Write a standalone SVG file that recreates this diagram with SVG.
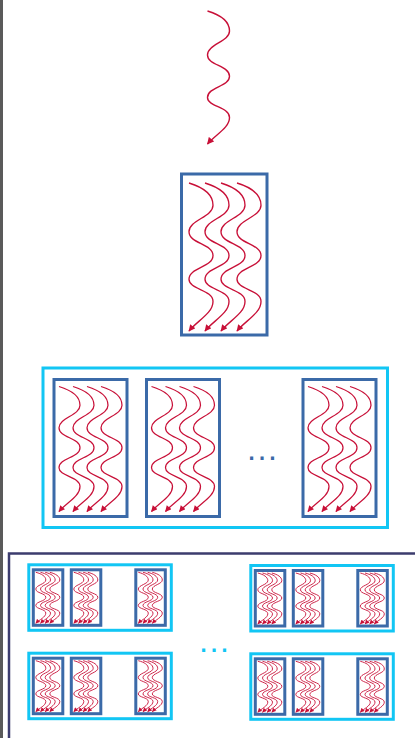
<svg xmlns="http://www.w3.org/2000/svg" xmlns:xlink="http://www.w3.org/1999/xlink" width="415" height="738" viewBox="0 0 415 738">
<style>
.w{fill:none;stroke:#c81038;marker-end:url(#ah)}
.box{fill:#fff;stroke:#3b6aa8;stroke-width:3}
.cy{fill:#fff;stroke:#12c6f4;stroke-width:3}
.dots{font-family:"Liberation Sans",Arial,sans-serif;font-size:33px;text-anchor:middle}
</style>
<defs>
<marker id="ah" viewBox="0 0 10 10" refX="9" refY="5" markerWidth="5.5" markerHeight="5" orient="auto" markerUnits="strokeWidth"><path d="M0,0 L10,5 L0,10 z" fill="#c81038"/></marker>
<path id="wA" class="w" stroke-width="1.4" d="M0,0 C13.2,4 22,10.6 22,20 C22,30.6 0,33.3 0,43.9 C0,54.5 22,54.5 22,65.2 C22,75.8 0,75.8 0,86.5 C0,95.8 22,95.8 22,106.4 C22,117 7.7,123.7 0,133"/>
<path id="wB" class="w" stroke-width="1.35" d="M0,0 C14.4,4.4 24,11.8 24,22.2 C24,34 0,37 0,48.8 C0,60.7 24,60.7 24,72.5 C24,84.4 0,84.4 0,96.2 C0,106.6 24,106.6 24,118.4 C24,130.2 8.4,137.6 0,148"/>
<path id="wC" class="w" stroke-width="1.25" d="M0,0 C12.6,3.8 21,10 21,18.8 C21,28.8 0,31.3 0,41.3 C0,51.3 21,51.3 21,61.3 C21,71.3 0,71.3 0,81.3 C0,90 21,90 21,100 C21,110 7.4,116.3 0,125"/>
<path id="wD" class="w" stroke-width="0.9" d="M0,0 C6,1.5 10,4.1 10,7.7 C10,11.7 0,12.8 0,16.8 C0,20.9 10,20.9 10,25 C10,29.1 0,29.1 0,33.2 C0,36.7 10,36.7 10,40.8 C10,44.9 3.5,47.4 0,51"/>
<g id="mbox">
<rect class="box" x="1.5" y="1.5" width="73" height="137"/>
<use href="#wC" x="6.5" y="8.5"/><use href="#wC" x="20.5" y="8.5"/><use href="#wC" x="34.5" y="8.5"/><use href="#wC" x="48.5" y="8.5"/>
</g>
<g id="sbox">
<rect class="box" x="1.5" y="1.5" width="29.5" height="55.5"/>
<use href="#wD" x="4" y="4"/><use href="#wD" x="8.7" y="4"/><use href="#wD" x="13.4" y="4"/><use href="#wD" x="18" y="4"/>
</g>
<g id="sgrp">
<rect class="cy" x="1.5" y="1.5" width="142.5" height="65.5"/>
<use href="#sbox" x="4.5" y="5"/><use href="#sbox" x="42.5" y="5"/><use href="#sbox" x="107" y="5"/>
</g>
</defs>
<rect x="0" y="0" width="415" height="738" fill="#fff"/>
<rect x="0" y="0" width="3" height="738" fill="#5a5a5a"/>
<g id="thread">
<use href="#wA" x="207.5" y="11"/>
</g>
<g id="core">
<rect class="box" x="181.5" y="174" width="85.5" height="161"/>
<use href="#wB" x="189" y="183"/><use href="#wB" x="205" y="183"/><use href="#wB" x="221" y="183"/><use href="#wB" x="237" y="183"/>
</g>
<g id="processor">
<rect class="cy" x="43" y="368" width="344.5" height="159.5"/>
<g id="core-1"><use href="#mbox" x="52.5" y="378"/></g>
<g id="core-2"><use href="#mbox" x="145" y="378"/></g>
<g id="core-n"><use href="#mbox" x="301.5" y="378"/></g>
<text class="dots" x="262" y="459.5" fill="#3b6aa8">…</text>
</g>
<g id="cluster">
<path d="M9,738 V553.5 H415" fill="none" stroke="#3c3c6e" stroke-width="2.5"/>
<g id="proc-1"><use href="#sgrp" x="27.3" y="563.3"/></g>
<g id="proc-2"><use href="#sgrp" x="27.3" y="651.7"/></g>
<g id="proc-3"><use href="#sgrp" x="249.3" y="564"/></g>
<g id="proc-4"><use href="#sgrp" x="249.3" y="652.3"/></g>
<text class="dots" x="214" y="651.5" fill="#12c6f4">…</text>
</g>
</svg>
